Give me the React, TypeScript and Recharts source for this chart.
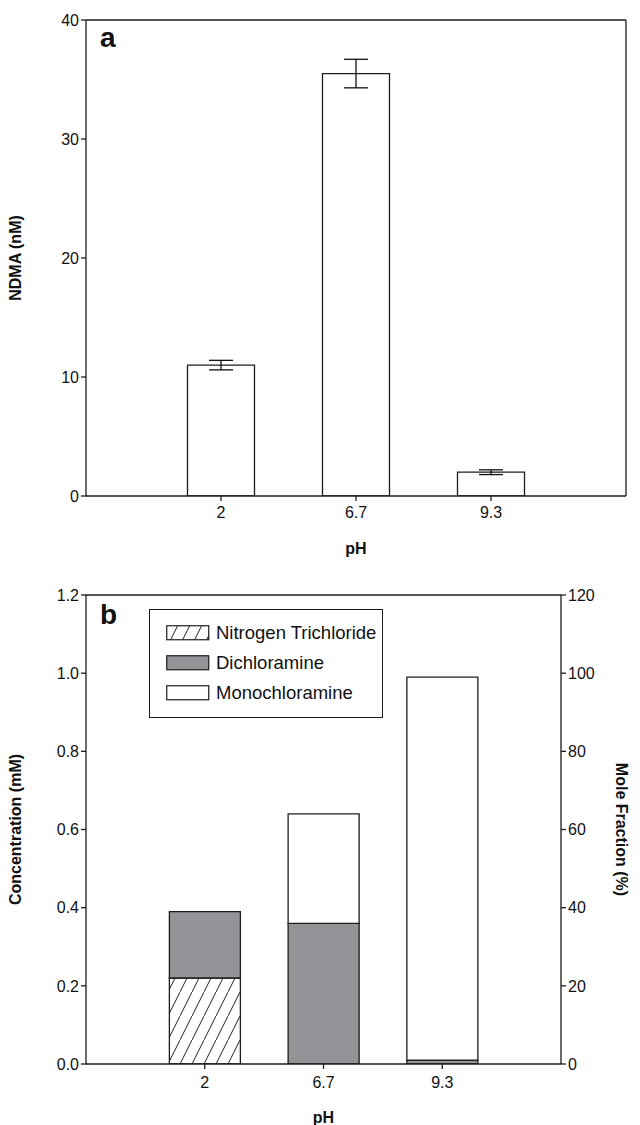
import React from "react";
import { Bar, BarChart, ErrorBar, Label, Legend, ReferenceLine, XAxis, YAxis } from "recharts";

// pH categories and measured values
const phLabels = ["2", "6.7", "9.3"];
const ndma = [11.0, 35.5, 2.0];
const ndmaErr = [0.4, 1.2, 0.2];

const trichloride = [0.22, 0, 0];
const dichloramine = [0.17, 0.36, 0.01];
const monochloramine = [0, 0.28, 0.98];

const seriesNames = ["Nitrogen Trichloride", "Dichloramine", "Monochloramine"];

const ndmaTicks = [0, 10, 20, 30, 40];
const concTicks = [0, 0.2, 0.4, 0.6, 0.8, 1.0, 1.2];
const fracTicks = [0, 20, 40, 60, 80, 100, 120];

const dataA = phLabels.map((ph, i) => ({ pos: i + 1, ph, ndma: ndma[i], err: ndmaErr[i] }));
const dataB = phLabels.map((ph, i) => ({
  pos: i + 1,
  ph,
  ncl3: trichloride[i],
  nhcl2: dichloramine[i],
  nh2cl: monochloramine[i],
}));

const INK = "#1c1c1c";
const GRAY = "#929497";
const seriesFills = ["url(#hatch)", GRAY, "#fff"];
const tickStyle = { fill: "#111", fontSize: 16 };
const phTick = (v: number) => phLabels[v - 1] ?? "";

const sideTitle = (text: string, cx: number, angle: number) => (props: any) => {
  const vb = props.viewBox;
  const cy = vb.y + vb.height / 2;
  return (
    <text
      x={cx}
      y={cy}
      transform={`rotate(${angle} ${cx} ${cy})`}
      textAnchor="middle"
      dominantBaseline="central"
      fontWeight="bold"
      fontSize={16}
      fill="#111"
    >
      {text}
    </text>
  );
};

// legend drawn in the order of the figure, not the stack order
const LegendBox = () => (
  <div
    style={{
      border: `1.5px solid ${INK}`,
      background: "#fff",
      padding: "8px 0 9px 16px",
      boxSizing: "border-box",
      width: 234,
    }}
  >
    {seriesNames.map((name, i) => (
      <div key={name} style={{ display: "flex", alignItems: "center", height: 30 }}>
        <svg width={44} height={16} style={{ marginRight: 6 }}>
          <rect x={0.75} y={0.75} width={42} height={14} fill={seriesFills[i]} stroke={INK} strokeWidth={1.2} />
        </svg>
        <span style={{ fontSize: 18.5, color: "#111", whiteSpace: "nowrap" }}>{name}</span>
      </div>
    ))}
  </div>
);

export default function App() {
  return (
    <div
      style={{
        position: "absolute",
        left: 0,
        top: 0,
        width: 640,
        height: 1125,
        background: "#fff",
        fontFamily: "'Liberation Sans', Arial, sans-serif",
      }}
    >
      {/* panel a */}
      <div style={{ position: "absolute", left: 0, top: 0 }}>
        <BarChart width={640} height={560} data={dataA} margin={{ top: 20, right: 14, left: 0, bottom: 0 }}>
          <XAxis
            dataKey="pos"
            type="number"
            domain={[0, 4]}
            allowDataOverflow
            ticks={[1, 2, 3]}
            tickFormatter={phTick}
            tick={tickStyle}
            tickSize={5}
            tickMargin={6}
            stroke={INK}
            strokeWidth={1.3}
            height={64}
          >
            <Label value="pH" position="insideBottom" offset={6} fill="#111" fontWeight="bold" fontSize={16} />
          </XAxis>
          <YAxis
            domain={[0, 40]}
            allowDataOverflow
            ticks={ndmaTicks}
            tick={tickStyle}
            tickSize={5}
            stroke={INK}
            strokeWidth={1.3}
            width={86}
          >
            <Label content={sideTitle("NDMA (nM)", 15, -90)} />
          </YAxis>
          {/* frame: top and right edges */}
          <ReferenceLine y={40} stroke={INK} strokeWidth={1.3} />
          <ReferenceLine x={4} stroke={INK} strokeWidth={1.3} />
          <Bar dataKey="ndma" fill="#fff" stroke={INK} strokeWidth={1.3} barSize={67} isAnimationActive={false}>
            <ErrorBar dataKey="err" width={12} stroke="#111" strokeWidth={1.3} direction="y" />
          </Bar>
        </BarChart>
        <div style={{ position: "absolute", left: 100, top: 24, fontSize: 28, lineHeight: "28px", fontWeight: "bold", color: "#111" }}>
          a
        </div>
      </div>

      {/* panel b */}
      <div style={{ position: "absolute", left: 0, top: 560 }}>
        <BarChart width={640} height={565} data={dataB} margin={{ top: 35, right: 0, left: 0, bottom: 0 }}>
          <defs>
            <pattern id="hatch" patternUnits="userSpaceOnUse" width={12} height={24}>
              <rect width={12} height={24} fill="#fff" />
              <line x1={-1} y1={26} x2={13} y2={-2} stroke="#222" strokeWidth={1} />
            </pattern>
          </defs>
          <XAxis
            dataKey="pos"
            type="number"
            domain={[0, 4]}
            allowDataOverflow
            ticks={[1, 2, 3]}
            tickFormatter={phTick}
            tick={tickStyle}
            tickSize={5}
            tickMargin={8}
            stroke={INK}
            strokeWidth={1.3}
            height={61}
          >
            <Label value="pH" position="insideBottom" offset={2} fill="#111" fontWeight="bold" fontSize={16} />
          </XAxis>
          <YAxis
            yAxisId="conc"
            domain={[0, 1.2]}
            allowDataOverflow
            ticks={concTicks}
            tickFormatter={(v: number) => v.toFixed(1)}
            tick={tickStyle}
            tickSize={5}
            stroke={INK}
            strokeWidth={1.3}
            width={86}
          >
            <Label content={sideTitle("Concentration (mM)", 15, -90)} />
          </YAxis>
          <YAxis
            yAxisId="frac"
            orientation="right"
            type="number"
            domain={[0, 120]}
            allowDataOverflow
            ticks={fracTicks}
            tick={tickStyle}
            tickSize={5}
            stroke={INK}
            strokeWidth={1.3}
            width={79}
          >
            <Label content={sideTitle("Mole Fraction (%)", 621, 90)} />
          </YAxis>
          <ReferenceLine yAxisId="conc" y={1.2} stroke={INK} strokeWidth={1.3} />
          <Legend
            layout="vertical"
            align="center"
            verticalAlign="middle"
            content={LegendBox}
            wrapperStyle={{ left: 149, top: 49, width: 234 }}
          />
          <Bar yAxisId="conc" dataKey="ncl3" name={seriesNames[0]} stackId="s" fill="url(#hatch)" stroke={INK} strokeWidth={1.3} barSize={71} isAnimationActive={false} />
          <Bar yAxisId="conc" dataKey="nhcl2" name={seriesNames[1]} stackId="s" fill={GRAY} stroke={INK} strokeWidth={1.3} barSize={71} isAnimationActive={false} />
          <Bar yAxisId="conc" dataKey="nh2cl" name={seriesNames[2]} stackId="s" fill="#fff" stroke={INK} strokeWidth={1.3} barSize={71} isAnimationActive={false} />
        </BarChart>
        <div style={{ position: "absolute", left: 100, top: 41, fontSize: 28, lineHeight: "28px", fontWeight: "bold", color: "#111" }}>
          b
        </div>
      </div>
    </div>
  );
}
